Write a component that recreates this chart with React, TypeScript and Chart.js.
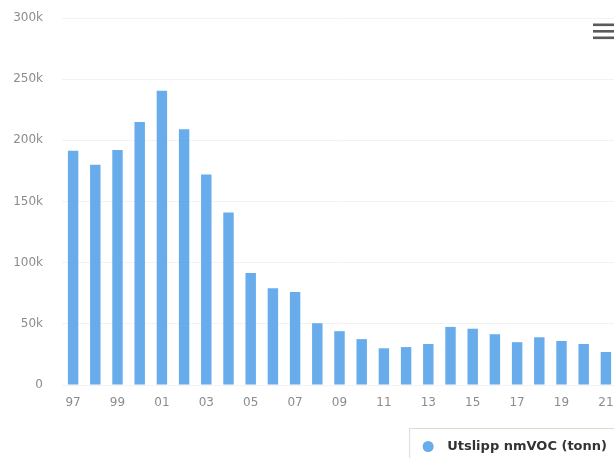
import React, { useEffect, useRef } from 'react';
import { Chart, registerables } from 'chart.js';

Chart.register(...registerables);

const years = ['97','98','99','00','01','02','03','04','05','06','07','08','09','10','11','12','13','14','15','16','17','18','19','20','21'];
const emissions = [191500,180000,192000,215000,240500,209000,172000,141000,91500,79000,76000,50500,44000,37500,30000,31000,33500,47500,46000,41500,35000,39000,36000,33500,27000];
const seriesName = 'Utslipp nmVOC (tonn)';
const yMax = 300000;
const yStep = 50000;

const barColor = '#68acec';

const extrasPlugin = {
  id: 'extras',
  afterDraw(chart: any) {
    const ctx = chart.ctx;
    ctx.save();
    // hamburger menu
    ctx.fillStyle = '#5a5a5a';
    [23.5, 30, 36.5].forEach((y) => ctx.fillRect(593, y, 30, 2.6));
    // legend
    const font = 'bold 13px "DejaVu Sans"';
    ctx.font = font;
    const label = chart.data.datasets[0].label;
    const tw = ctx.measureText(label).width;
    const textRight = 607;
    const textX = textRight - tw;
    const cy = 446.5;
    const cx = textX - 19;
    const boxLeft = cx - 19;
    ctx.strokeStyle = '#e3d9cf';
    ctx.lineWidth = 1;
    ctx.strokeRect(boxLeft + 0.5, 428.5, 640, 60);
    ctx.fillStyle = chart.data.datasets[0].backgroundColor;
    ctx.beginPath();
    ctx.arc(cx, cy, 5.5, 0, Math.PI * 2);
    ctx.fill();
    ctx.fillStyle = '#333333';
    ctx.textBaseline = 'middle';
    ctx.textAlign = 'left';
    ctx.fillText(label, textX, cy);
    ctx.restore();
  },
};

export default function App() {
  const ref = useRef<HTMLCanvasElement>(null);
  useEffect(() => {
    document.body.style.margin = '0';
    const chart = new Chart(ref.current!, {
      type: 'bar',
      data: {
        labels: years,
        datasets: [
          {
            label: seriesName,
            data: emissions,
            backgroundColor: barColor,
            borderWidth: 0,
            barPercentage: 0.47,
            categoryPercentage: 1,
          },
        ],
      },
      options: {
        responsive: false,
        animation: false,
        devicePixelRatio: 1,
        layout: { padding: { top: 18, right: 13, bottom: 22, left: 0 } },
        plugins: { legend: { display: false }, tooltip: { enabled: false } },
        scales: {
          x: {
            grid: { display: false, drawTicks: false },
            border: { display: false },
            ticks: {
              autoSkip: false,
              maxRotation: 0,
              padding: 11,
              color: '#8c8c8c',
              font: { family: '"DejaVu Sans"', size: 12 },
              callback: (_v: any, i: number) => (i % 2 === 0 ? years[i] : ''),
            },
            afterFit: (s: any) => { s.height = 51; },
          },
          y: {
            min: 0,
            max: yMax,
            grid: { color: '#f3f3f3', drawTicks: true, tickLength: 19, tickColor: 'rgba(0,0,0,0)' },
            border: { display: false },
            ticks: {
              stepSize: yStep,
              padding: 0,
              color: '#8c8c8c',
              font: { family: '"DejaVu Sans"', size: 12 },
              callback: (v: any) => (v === 0 ? '0' : v / 1000 + 'k'),
            },
            afterFit: (s: any) => { s.width = 62; },
          },
        },
      },
      plugins: [extrasPlugin],
    });
    return () => chart.destroy();
  }, []);
  return (
    <div style={{ position: 'relative', width: 614, height: 458, overflow: 'hidden', background: '#fff' }}>
      <canvas ref={ref} width={630} height={458} style={{ display: 'block' }} />
    </div>
  );
}
